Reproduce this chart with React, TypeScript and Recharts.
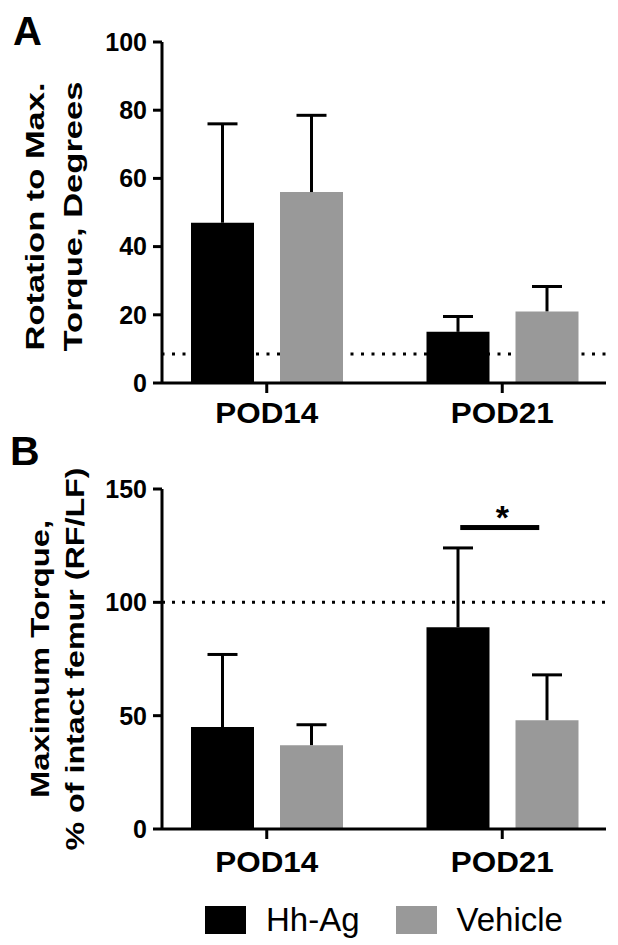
import React from 'react'
import {
  ComposedChart,
  Bar,
  XAxis,
  YAxis,
  ErrorBar,
  ReferenceLine,
  ReferenceDot,
  Legend,
} from 'recharts'

const FONT = '"Liberation Sans", Arial, Helvetica, sans-serif'

const categories = ['POD14', 'POD21']
const groups = ['Hh-Ag', 'Vehicle']

// panel A: rotation to max torque (degrees), mean + upper SD
const rotationHhAg = [47, 15]
const rotationHhAgErr = [29, 4.5]
const rotationVehicle = [56, 21]
const rotationVehicleErr = [22.5, 7.3]
const rotationTicks = [0, 20, 40, 60, 80, 100]
const rotationIntact = 8.5

// panel B: max torque, % of intact femur
const torqueHhAg = [45, 89]
const torqueHhAgErr = [32, 35]
const torqueVehicle = [37, 48]
const torqueVehicleErr = [9, 20]
const torqueTicks = [0, 50, 100, 150]
const torqueIntact = 100
const torqueSignificance = 133

const rotationData = categories.map((name, i) => ({
  name,
  hh: rotationHhAg[i],
  hhErr: [0, rotationHhAgErr[i]],
  veh: rotationVehicle[i],
  vehErr: [0, rotationVehicleErr[i]],
}))

const torqueData = categories.map((name, i) => ({
  name,
  hh: torqueHhAg[i],
  hhErr: [0, torqueHhAgErr[i]],
  veh: torqueVehicle[i],
  vehErr: [0, torqueVehicleErr[i]],
}))

const BLACK = '#000000'
const GREY = '#999999'

function CategoryTick({ x, y, payload }: any) {
  return (
    <text
      x={x}
      y={y}
      textAnchor="middle"
      fontFamily={FONT}
      fontSize={30}
      fontWeight={700}
      fill="#000"
      textLength={103}
      lengthAdjust="spacingAndGlyphs"
    >
      {payload.value}
    </text>
  )
}

function AxisTitle({ viewBox, lines, baselines, lengths, shift = 0 }: any) {
  const cy = viewBox.y + viewBox.height / 2 + shift
  return (
    <g>
      {lines.map((line: string, i: number) => (
        <text
          key={line}
          x={baselines[i]}
          y={cy}
          transform={`rotate(-90 ${baselines[i]} ${cy})`}
          textAnchor="middle"
          fontFamily={FONT}
          fontSize={25}
          fontWeight={700}
          fill="#000"
          textLength={lengths[i]}
          lengthAdjust="spacingAndGlyphs"
        >
          {line}
        </text>
      ))}
    </g>
  )
}

function SignificanceMark({ cx, cy }: any) {
  return (
    <g>
      <rect x={cx - 42} y={cy - 2.5} width={79} height={5} fill="#000" />
      <text x={cx} y={cy + 1} textAnchor="middle" fontFamily={FONT} fontSize={34} fontWeight={700} fill="#000">
        *
      </text>
    </g>
  )
}

function GroupLegend({ payload }: any) {
  return (
    <div style={{ display: 'flex', alignItems: 'center', fontFamily: FONT, fontSize: 33, color: '#000' }}>
      {(payload || []).map((entry: any, i: number) => (
        <div key={entry.value} style={{ display: 'flex', alignItems: 'center', marginRight: i === 0 ? 36 : 0 }}>
          <span style={{ display: 'inline-block', width: 41, height: 28, background: entry.color, marginRight: 20 }} />
          <span>{entry.value}</span>
        </div>
      ))}
    </div>
  )
}

const axisStroke = { stroke: '#000', strokeWidth: 3 }
const yTick = { fontFamily: FONT, fontSize: 25, fontWeight: 700, fill: '#000' }

function RotationPanel() {
  return (
    <ComposedChart
      width={618}
      height={445}
      data={rotationData}
      margin={{ top: 42, right: 12, bottom: 0, left: 0 }}
      barGap={26}
    >
      <XAxis
        dataKey="name"
        height={62}
        padding={{ left: -13, right: -14 }}
        axisLine={axisStroke}
        tickLine={axisStroke}
        tickSize={10}
        tickMargin={30}
        tick={<CategoryTick />}
      />
      <YAxis
        width={162}
        domain={[0, 100]}
        ticks={rotationTicks}
        interval={0}
        axisLine={axisStroke}
        tickLine={axisStroke}
        tickSize={9}
        tickMargin={6}
        tick={yTick}
        label={(props: any) => (
          <AxisTitle
            {...props}
            lines={['Rotation to Max.', 'Torque, Degrees']}
            baselines={[44, 81.5]}
            lengths={[268, 270]}
            shift={4}
          />
        )}
      />
      <ReferenceLine
        y={rotationIntact}
        stroke="#000"
        strokeWidth={3}
        strokeDasharray="3 7.5"
        strokeDashoffset={-10}
        zIndex={-10}
      />
      <Bar dataKey="hh" name={groups[0]} fill={BLACK} barSize={63} isAnimationActive={false}>
        <ErrorBar dataKey="hhErr" direction="y" width={15} stroke="#000" strokeWidth={3} isAnimationActive={false} />
      </Bar>
      <Bar dataKey="veh" name={groups[1]} fill={GREY} barSize={63} isAnimationActive={false}>
        <ErrorBar dataKey="vehErr" direction="y" width={15} stroke="#000" strokeWidth={3} isAnimationActive={false} />
      </Bar>
    </ComposedChart>
  )
}

function TorquePanel() {
  return (
    <ComposedChart
      width={618}
      height={500}
      data={torqueData}
      margin={{ top: 44, right: 12, bottom: 0, left: 0 }}
      barGap={26}
    >
      <XAxis
        dataKey="name"
        height={116}
        padding={{ left: -13, right: -14 }}
        axisLine={axisStroke}
        tickLine={axisStroke}
        tickSize={10}
        tickMargin={33}
        tick={<CategoryTick />}
      />
      <YAxis
        width={162}
        domain={[0, 150]}
        ticks={torqueTicks}
        interval={0}
        axisLine={axisStroke}
        tickLine={axisStroke}
        tickSize={9}
        tickMargin={6}
        tick={yTick}
        label={(props: any) => (
          <AxisTitle
            {...props}
            lines={['Maximum Torque,', '% of intact femur (RF/LF)']}
            baselines={[48.5, 83.5]}
            lengths={[278, 383]}
          />
        )}
      />
      <ReferenceLine
        y={torqueIntact}
        stroke="#000"
        strokeWidth={3}
        strokeDasharray="3 7"
        strokeDashoffset={-10}
        zIndex={-10}
      />
      <Bar dataKey="hh" name={groups[0]} fill={BLACK} barSize={63} isAnimationActive={false}>
        <ErrorBar dataKey="hhErr" direction="y" width={15} stroke="#000" strokeWidth={3} isAnimationActive={false} />
      </Bar>
      <Bar dataKey="veh" name={groups[1]} fill={GREY} barSize={63} isAnimationActive={false}>
        <ErrorBar dataKey="vehErr" direction="y" width={15} stroke="#000" strokeWidth={3} isAnimationActive={false} />
      </Bar>
      <ReferenceDot x="POD21" y={torqueSignificance} r={0} shape={<SignificanceMark />} />
      <Legend
        layout="horizontal"
        verticalAlign="middle"
        align="center"
        content={<GroupLegend />}
        wrapperStyle={{ top: 456, left: 205, width: 'auto' }}
      />
    </ComposedChart>
  )
}

export default function App() {
  return (
    <div style={{ position: 'absolute', left: 0, top: 0, width: 618, height: 945, background: '#fff' }}>
      <style>{`.recharts-errorBar line:nth-of-type(3){display:none}`}</style>
      <div style={{ position: 'absolute', left: 0, top: 0 }}>
        <RotationPanel />
      </div>
      <div style={{ position: 'absolute', left: 0, top: 445 }}>
        <TorquePanel />
      </div>
      <svg width={618} height={945} style={{ position: 'absolute', left: 0, top: 0, pointerEvents: 'none' }}>
        <text x={13} y={45} fontFamily={FONT} fontSize={40} fontWeight={700} fill="#000">A</text>
        <text x={10} y={465} fontFamily={FONT} fontSize={41} fontWeight={700} fill="#000">B</text>
      </svg>
    </div>
  )
}
